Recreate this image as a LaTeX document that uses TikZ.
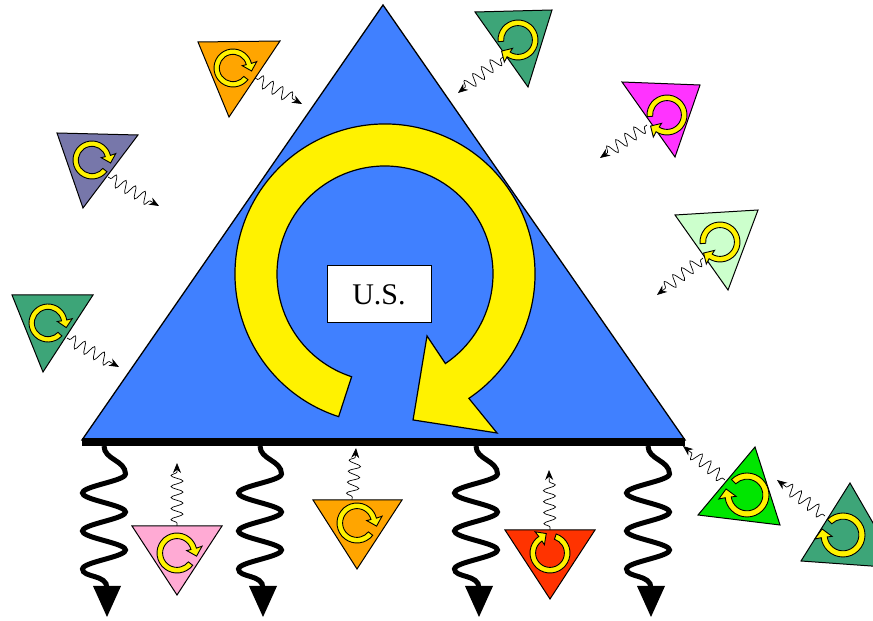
\documentclass[tikz,border=0pt]{standalone}
\usepackage{fontspec}
\setmainfont{Liberation Serif}
\usetikzlibrary{decorations.pathmorphing,arrows.meta}
\definecolor{bigblue}{RGB}{64,128,255}
\definecolor{orangeC}{RGB}{255,165,0}
\definecolor{slateC}{RGB}{119,119,170}
\definecolor{seaC}{RGB}{61,165,120}
\definecolor{magC}{RGB}{255,51,255}
\definecolor{lgreenC}{RGB}{204,255,204}
\definecolor{pinkC}{RGB}{255,170,212}
\definecolor{redC}{RGB}{255,51,0}
\definecolor{bgreenC}{RGB}{0,230,0}
\newcommand{\cycshape}[1]{\path[fill=yellow,draw=black,line width=#1,line join=miter]
     (252:1) arc[start angle=252,end angle=-56,radius=1]
     -- (0.747,-1.06) -- (0.187,-0.973) -- (0.28,-0.413)
     -- (-56:0.72) arc[start angle=-56,end angle=252,radius=0.72] -- cycle;}
\tikzset{
  smalltri/.style={draw=black,line width=1pt,line join=miter},
  wv/.style={line width=0.7pt,decorate,
     decoration={snake,amplitude=6pt,segment length=11pt,pre length=3pt,post length=9pt},
     -{Stealth[length=10pt,width=8pt]}},
  thickwave/.style={line width=5pt},
}
\begin{document}
\begin{tikzpicture}[x=1pt,y=1pt]
\useasboundingbox (0,0) rectangle (873,621);
\clip (0,0) rectangle (873,621);
% big triangle
\draw[fill=bigblue,line width=1.3pt,line join=miter] (383,616) -- (82,181) -- (685,181) -- cycle;
% big cycle arrow
\begin{scope}[shift={(385,347)},scale=150]
  \cycshape{1.2pt}
\end{scope}
\node[draw,fill=white,line width=1pt,minimum width=104pt,minimum height=57pt,
      inner sep=0pt,font=\fontsize{30}{30}\selectfont] (us) at (379,326.5) {U.S.};
% base bar
\draw[line width=8pt] (82,179) -- (685,179);
% thick waves
\foreach \xc in {104,260,476,648}{
  \draw[thickwave] (\xc,175) to[out=-90,in=90] (\xc+21.5,147)
     -- plot[smooth,domain=0:2.5,samples=51] ({\xc+21.5*cos(360*\x)},{147-38*\x})
     .. controls (\xc-21.5,43) and (\xc+3,47) .. (\xc+3,33);
  \fill (\xc-11,35) -- (\xc+17,35) -- (\xc+3,4) -- cycle;
}
% thin wave endpoints
\coordinate (s1) at (255,543); \coordinate (e1) at (302,517);
\coordinate (s2) at (108,444); \coordinate (e2) at (159,415);
\coordinate (s3) at (67,283);  \coordinate (e3) at (119,254);
\coordinate (s4) at (503,564); \coordinate (e4) at (458,528);
\coordinate (s5) at (647,496); \coordinate (e5) at (600,463);
\coordinate (s6) at (703,363); \coordinate (e6) at (657,326);
\coordinate (s7) at (177,95);  \coordinate (e7) at (177,158);
\coordinate (s8) at (352,121); \coordinate (e8) at (356,173);
\coordinate (s9) at (550,91);  \coordinate (e9) at (549,151);
\coordinate (s10) at (725,141); \coordinate (e10) at (683,175);
\coordinate (s11) at (825,105); \coordinate (e11) at (777,141);
\foreach \i in {1,...,11}{ \draw[wv] (s\i) -- (e\i); }
% small triangles
\draw[smalltri,fill=orangeC] (198,579) -- (280,580) -- (229,504) -- cycle;
\draw[smalltri,fill=slateC] (57,488) -- (138,486) -- (83,413) -- cycle;
\draw[smalltri,fill=seaC] (12,326) -- (93,326) -- (43,249) -- cycle;
\draw[smalltri,fill=seaC] (475,609) -- (552,611) -- (528,534) -- cycle;
\draw[smalltri,fill=magC] (622,539) -- (700,536) -- (675,464) -- cycle;
\draw[smalltri,fill=lgreenC] (675,406) -- (758,411) -- (728,331) -- cycle;
\draw[smalltri,fill=pinkC] (132,95) -- (222,95) -- (177,26) -- cycle;
\draw[smalltri,fill=orangeC] (313,121) -- (402,121) -- (357,52) -- cycle;
\draw[smalltri,fill=redC] (505,91) -- (595,91) -- (550,22) -- cycle;
\draw[smalltri,fill=bgreenC] (755,174) -- (698,106) -- (780,96) -- cycle;
\draw[smalltri,fill=seaC] (850,138) -- (801,60) -- (899,53) -- cycle;
% rings
\foreach \cx/\cy/\r/\rot in {233/553/19/70, 92/461/19/70, 48/298/19/65,
   518/581/20/-67, 667/506/20/-67, 720/379/20/-67,
   177/68/20/70, 357/98/20/70, 550/68/20/180, 747/126/22/-117, 843/86/22/-117}{
  \begin{scope}[shift={(\cx,\cy)},scale=\r,rotate=\rot]
    \cycshape{0.9pt}
  \end{scope}
}
\end{tikzpicture}
\end{document}
